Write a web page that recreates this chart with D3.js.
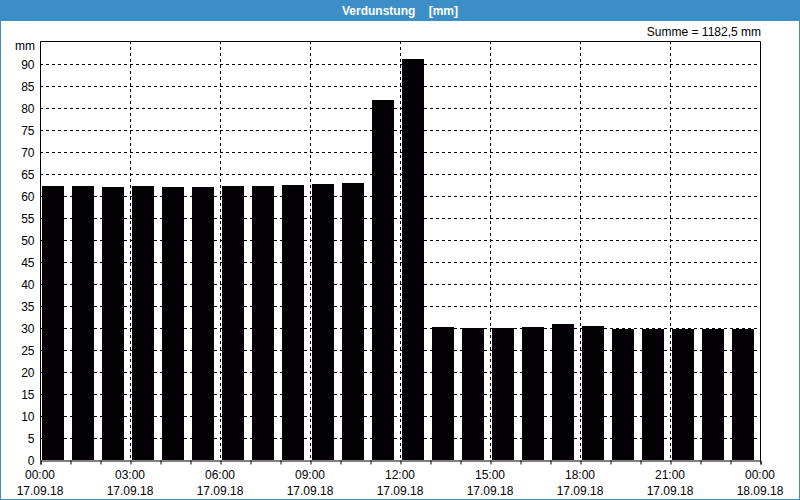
<!DOCTYPE html>
<html><head><meta charset="utf-8">
<script src="https://cdn.jsdelivr.net/npm/d3@7"></script>
<style>
html,body{margin:0;padding:0;background:#fff;}
svg{display:block;}
text{font-family:"Liberation Sans",Arial,sans-serif;font-size:12px;fill:#000;}
</style></head><body>
<svg id="chart" width="800" height="500"></svg>
<script>
const title = "Verdunstung    [mm]";
const sumLabel = "Summe = 1182,5 mm";
const unitLabel = "mm";
const hours = d3.range(0, 24);
const values = [62.3, 62.3, 62.1, 62.3, 62.05, 62.05, 62.3, 62.3, 62.5, 62.7, 63.0, 81.8, 91.1,
                30.3, 29.9, 29.9, 30.2, 30.8, 30.45, 29.8, 29.8, 29.8, 29.8, 29.8];
const yTicks = d3.range(0, 95, 5);
const xTickTimes = ["00:00","03:00","06:00","09:00","12:00","15:00","18:00","21:00","00:00"];
const xTickDates = ["17.09.18","17.09.18","17.09.18","17.09.18","17.09.18","17.09.18","17.09.18","17.09.18","18.09.18"];

const svg = d3.select("#chart");
const W = 800, H = 500;
const L = 40, R = 760, T = 41, B = 460;

// frame
svg.append("rect").attr("x",0.5).attr("y",0.5).attr("width",W-1).attr("height",H-1)
  .attr("fill","#fff").attr("stroke","#3c8fc6");
svg.append("rect").attr("x",0).attr("y",0).attr("width",W).attr("height",21).attr("fill","#3c8fc6");
svg.append("text").attr("x",W/2).attr("y",15).attr("text-anchor","middle")
  .style("fill","#fff").style("font-weight","bold").attr("xml:space","preserve").text(title);

const x = d3.scaleLinear().domain([0,24]).range([L,R]);
const y = d3.scaleLinear().domain([0,95]).range([B,T+1]);

// grid
const g = svg.append("g");
g.selectAll("line.h").data(yTicks.filter(v=>v>0)).join("line")
  .attr("x1",L).attr("x2",R).attr("y1",d=>Math.round(y(d))+0.5).attr("y2",d=>Math.round(y(d))+0.5)
  .attr("stroke","#000").attr("stroke-dasharray","3,3");
g.selectAll("line.v").data(d3.range(3,24,3)).join("line")
  .attr("y1",T).attr("y2",B).attr("x1",d=>Math.round(x(d))+0.5).attr("x2",d=>Math.round(x(d))+0.5)
  .attr("stroke","#000").attr("stroke-dasharray","3,3");

// bars
const slot = x(1)-x(0);
svg.selectAll("rect.bar").data(values).join("rect").attr("class","bar")
  .attr("x",(d,i)=>x(hours[i])+2).attr("width",slot-8)
  .attr("y",d=>Math.round(y(d))).attr("height",d=>B-Math.round(y(d)))
  .attr("fill","#050005");

// border
svg.append("path").attr("d",`M${L+0.5},${B+0.5}V${T+0.5}H${R+0.5}V${B+0.5}`)
  .attr("fill","none").attr("stroke","#000");

// axes
const xAxis = d3.axisBottom(x).tickValues(d3.range(0,25,1)).tickSize(4).tickFormat("");
const xa = svg.append("g").attr("transform",`translate(0.5,${B+0.5})`).call(xAxis);
xa.select(".domain").attr("stroke","#000");
xa.selectAll(".tick line").attr("stroke","#000");
const labelsG = svg.append("g");
xTickTimes.forEach((t,i)=>{
  labelsG.append("text").attr("x",x(i*3)).attr("y",479).attr("text-anchor","middle").text(t);
  labelsG.append("text").attr("x",x(i*3)).attr("y",495).attr("text-anchor","middle").text(xTickDates[i]);
});

const yAxis = d3.axisLeft(y).tickValues(yTicks).tickSize(0).tickPadding(6);
const ya = svg.append("g").attr("transform",`translate(${L+0.5},0.5)`).call(yAxis);
ya.select(".domain").remove();
ya.selectAll("text").style("font-family","Liberation Sans").style("font-size","12px");
svg.append("text").attr("x",35).attr("y",50).attr("text-anchor","end").text(unitLabel);
svg.append("text").attr("x",761).attr("y",36).attr("text-anchor","end").text(sumLabel);
</script></body></html>
